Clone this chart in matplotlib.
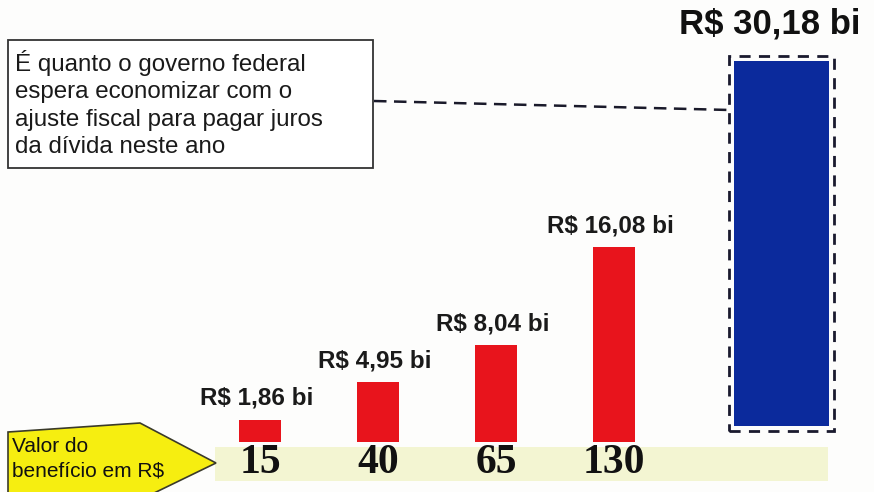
import matplotlib.pyplot as plt
from matplotlib.patches import Rectangle, Polygon

# values
beneficio = ["15", "40", "65", "130"]
economia = [1.86, 4.95, 8.04, 16.08]
rotulos = ["R$ 1,86 bi", "R$ 4,95 bi", "R$ 8,04 bi", "R$ 16,08 bi"]
ajuste = 30.18
rotulo_ajuste = "R$ 30,18 bi"
texto_caixa = ("É quanto o governo federal\nespera economizar com o\n"
               "ajuste fiscal para pagar juros\nda dívida neste ano")
texto_seta = "Valor do\nbenefício em R$"

plt.rcParams['font.family'] = ['Liberation Sans', 'DejaVu Sans']

fig = plt.figure(figsize=(8.74, 4.92), dpi=100)
fig.patch.set_facecolor('#fdfdfc')

# overlay in pixel units for the decorations
deco = fig.add_axes([0, 0, 1, 1])
deco.set_xlim(0, 874)
deco.set_ylim(492, 0)
deco.axis('off')

# pale band behind the benefit values
deco.add_patch(Rectangle((215, 447), 613, 34, color='#f3f5d2', lw=0))

# yellow arrow label
deco.add_patch(Polygon([(8, 432), (140, 423), (216, 463), (150, 495), (8, 495)],
                       closed=True, facecolor='#f6ee10', edgecolor='#3a3a2a', lw=1.2))
deco.text(12, 459, texto_seta, fontsize=15, va='center', ha='left',
          linespacing=1.4, color='#111111')

# note box
deco.add_patch(Rectangle((8, 40), 365, 128, facecolor='white',
                         edgecolor='#333333', lw=1.3))
deco.text(15, 104, texto_caixa, fontsize=17.4, va='center', ha='left',
          linespacing=1.33, color='#1a1a1a')
deco.plot([374, 730], [101, 110], ls=(0, (5, 3)), color='#1a1a2a', lw=1.8)

# bars in data units
ax = fig.add_axes([0, 0, 1, 1])
ax.patch.set_alpha(0)
ax.set_xlim(-2.203, 5.203)
ax.set_ylim(-4.13, 36.53)
ax.axis('off')

pos = list(range(len(economia)))
bars = ax.bar(pos, economia, width=0.36, color='#e8141c', zorder=3)
for b, lab in zip(bars, rotulos):
    ax.annotate(lab, (b.get_x() + b.get_width() / 2 - 0.03, b.get_height()),
                xytext=(0, 7), textcoords='offset points', ha='center',
                va='bottom', fontsize=17.5, fontweight='bold', color='#1a1a1a')
for p, v in zip(pos, beneficio):
    ax.text(p, -1.75, v, ha='center', va='center', fontsize=30,
            fontweight='bold', family='Liberation Serif', color='#111111')

xb = 4.42
base = 1.3
blue = ax.bar([xb], [ajuste], bottom=base, width=0.80, color='#0b2a9c', zorder=3)
ax.add_patch(Rectangle((xb - 0.445, base - 0.35), 0.89, ajuste + 0.75,
                       fill=False, ls=(0, (4, 3)), lw=2, edgecolor='#1a1a2e',
                       zorder=4))
ax.annotate(rotulo_ajuste, (xb - 0.1, base + ajuste), xytext=(0, 15),
            textcoords='offset points', ha='center', va='bottom',
            fontsize=25, fontweight='bold', color='#111111')

fig.savefig('out.png', dpi=100, facecolor=fig.get_facecolor())
